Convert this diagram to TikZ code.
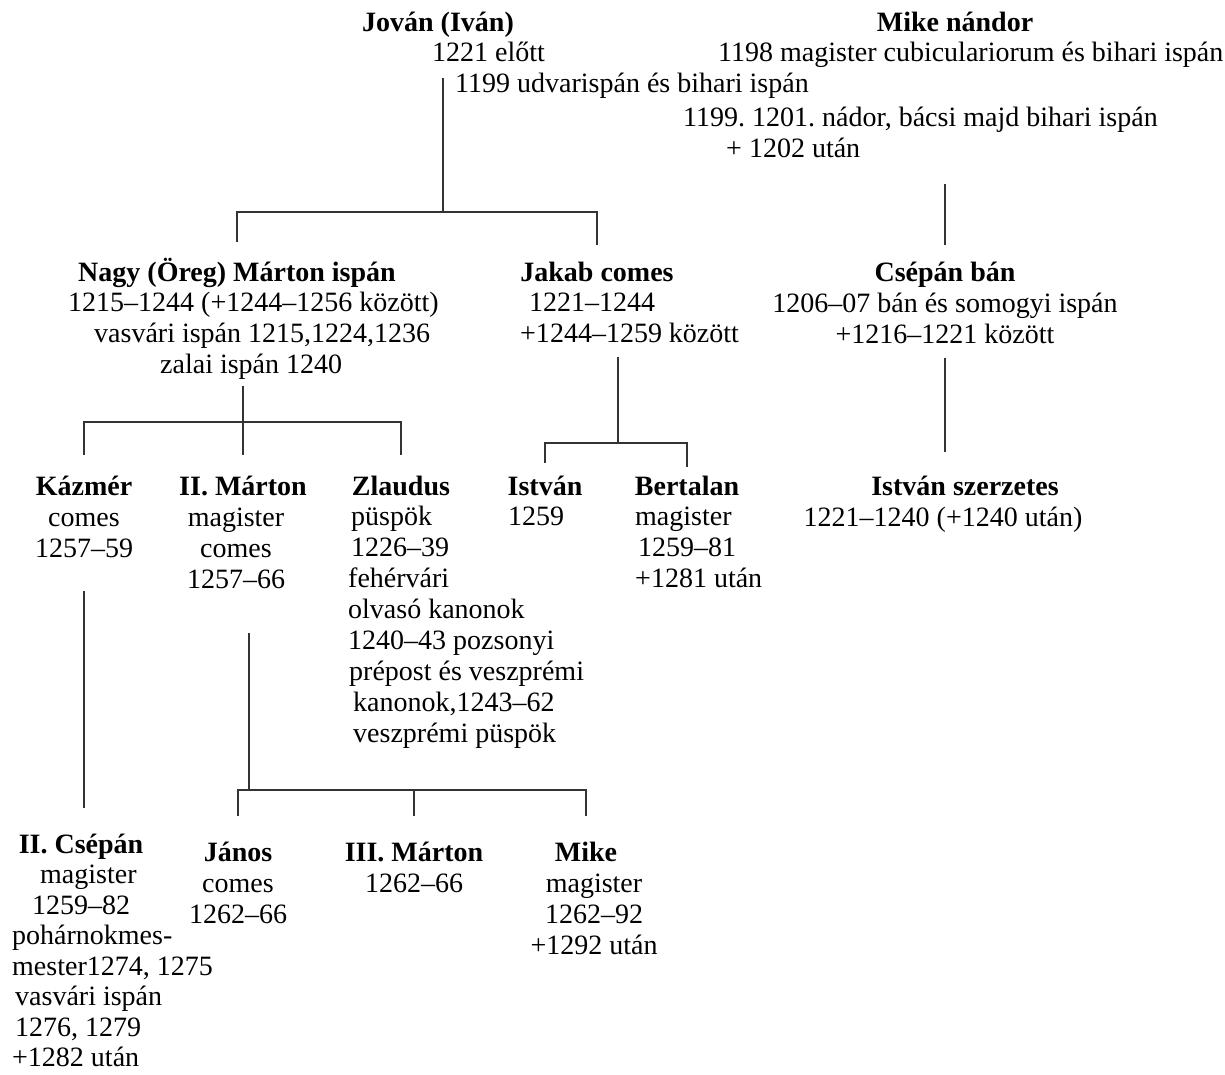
\documentclass[tikz,border=0pt]{standalone}
\usepackage{fontspec}
\setmainfont{Liberation Serif}
\usetikzlibrary{positioning}
\frenchspacing

\tikzset{
  person/.style={font=\fontsize{28}{31}\selectfont\bfseries, inner sep=0pt,
    text height=20pt, text depth=6pt, anchor=base},
  info/.style={font=\fontsize{28}{31}\selectfont, inner sep=0pt, align=center},
  infol/.style={font=\fontsize{28}{31}\selectfont, inner sep=0pt, align=left,
    anchor=north west},
  link/.style={draw=black!80, line width=1.2pt},
}

\begin{document}
\begin{tikzpicture}[x=1pt,y=1pt]
\useasboundingbox (0,0) rectangle (1225,-1074);

% first generation
\node[person] (jovan) at (438,-31) {Jován (Iván)};
\node[infol] (jovaninfo) at (432,-39.3) {\strut1221 előtt\\\hspace*{23pt}1199 udvarispán és bihari ispán};
\node[person] (mike) at (955,-31) {Mike nándor};
\node[infol] (mikeinfo) at (683,-39.3) {\strut\hspace*{35pt}1198 magister cubiculariorum és bihari ispán\\[34pt]1199. 1201. nádor, bácsi majd bihari ispán\\\hspace*{43pt}+ 1202 után};

% second generation
\node[person] (marton) at (237,-281) {Nagy (Öreg) Márton ispán};
\node[infol] (martoninfo) at (68,-289.3) {\strut1215–1244 (+1244–1256 között)\\\hspace*{26pt}vasvári ispán 1215,1224,1236\\\hspace*{92pt}zalai ispán 1240};
\node[person] (jakab) at (597,-281) {Jakab comes};
\node[infol] (jakabinfo) at (520,-289.3) {\strut\hspace*{9pt}1221–1244\\+1244–1259 között};
\node[person] (csepan) at (945,-281) {Csépán bán};
\node[info, below=9.3pt of csepan.base] (csepaninfo) {\strut1206–07 bán és somogyi ispán\\+1216–1221 között};

% third generation
\node[person] (kazmer) at (84,-495) {Kázmér};
\node[info, below=9.3pt of kazmer.base] (kazmerinfo) {\strut comes\\1257–59};
\node[person] (marton2) at (243,-495) {II. Márton};
\node[info, below=9.3pt of marton2.base, xshift=-7pt] (marton2info) {\strut magister\\comes\\1257–66};
\node[person] (zlaudus) at (401,-495) {Zlaudus};
\node[infol] (zlaudusinfo) at (348,-503.3) {\strut\hspace*{3pt}püspök\\\hspace*{3pt}1226–39\\fehérvári\\olvasó kanonok\\1240–43 pozsonyi\\\hspace*{1pt}prépost és veszprémi\\\hspace*{5pt}kanonok,1243–62\\\hspace*{5pt}veszprémi püspök};
\node[person] (istvan) at (545,-495) {István};
\node[infol] (istvaninfo) at (508,-503.3) {\strut1259};
\node[person] (bertalan) at (687,-495) {Bertalan};
\node[infol] (bertalaninfo) at (635,-503.3) {\strut magister\\\hspace*{3pt}1259–81\\+1281 után};
\node[person] (istvansz) at (965,-495) {István szerzetes};
\node[info, below=9.3pt of istvansz.base, xshift=-22pt] (istvanszinfo) {\strut1221–1240 (+1240 után)};

% fourth generation
\node[person] (csepan2) at (81,-853) {II. Csépán};
\node[infol, font=\fontsize{28}{30.5}\selectfont] (csepan2info) at (12,-862.3) {\strut\hspace*{28pt}magister\\\hspace*{20pt}1259–82\\pohárnokmes-\\mester1274, 1275\\\hspace*{3pt}vasvári ispán\\\hspace*{3pt}1276, 1279\\+1282 után};
\node[person] (janos) at (238,-861) {János};
\node[info, below=9.3pt of janos.base] (janosinfo) {\strut comes\\1262–66};
\node[person] (marton3) at (414,-861) {III. Márton};
\node[info, below=9.3pt of marton3.base] (marton3info) {\strut1262–66};
\node[person] (mike2) at (586,-861) {Mike};
\node[info, below=9.3pt of mike2.base, xshift=8pt] (mike2info) {\strut magister\\1262–92\\+1292 után};

% lines of descent
\coordinate (jA) at (443,-212);
\draw[link, shorten <=41pt] (jovan.south -| jA) -- (jA);
\draw[link, shorten >=19pt] (jA) -| (marton.north);
\draw[link, shorten >=16pt] (jA) -| (jakab.north);

\draw[link, shorten <=26pt, shorten >=16pt] (mikeinfo.south -| csepan.north) -- (csepan.north);

\coordinate (jC) at (243,-422);
\draw[link, shorten <=7pt] (martoninfo.south -| jC) -- (jC);
\draw[link, shorten >=20pt] (jC) -| (kazmer.north);
\draw[link, shorten >=20pt] (jC) -- (marton2.north);
\draw[link, shorten >=20pt] (jC) -| (zlaudus.north);

\coordinate (jD) at (618,-443);
\draw[link, shorten <=14pt] (jakabinfo.south -| jD) -- (jD);
\draw[link, shorten >=12pt] (jD) -| (istvan.north);
\draw[link, shorten >=8pt] (jD) -| (bertalan.north);

\draw[link, shorten <=14pt, shorten >=23pt] (csepaninfo.south) -- (csepaninfo.south |- istvansz.north);

\draw[link, shorten <=33pt, shorten >=25pt] (kazmerinfo.south) -- (kazmerinfo.south |- csepan2.north);

\coordinate (jG) at (249,-790);
\draw[link, shorten <=44pt] (marton2info.south -| jG) -- (jG);
\draw[link, shorten >=25pt] (jG) -| (janos.north);
\draw[link, shorten >=25pt] (jG) -| (marton3.north);
\draw[link, shorten >=25pt] (jG) -| (mike2.north);
\end{tikzpicture}
\end{document}
